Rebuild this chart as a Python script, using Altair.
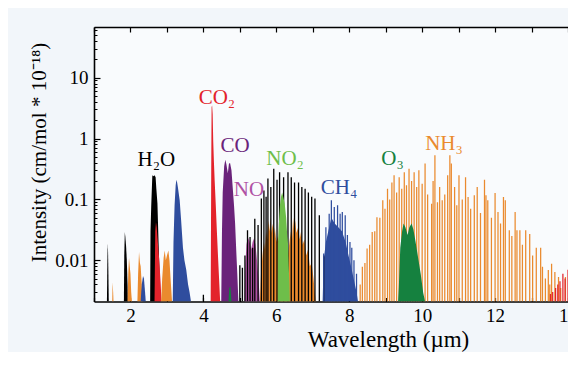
import altair as alt
import pandas as pd

# ---------------- scale limits ----------------
X_MIN, X_MAX = 1.0, 14.0
Y_MIN, Y_MAX = 0.0021, 68
W, H = 474, 274.5
Y0 = Y_MIN

species = ["H2O", "CO2", "CO", "NO", "NO2", "CH4", "O3", "NH3"]
colors = ["#000000", "#e3232b", "#6a237a", "#b052a5", "#6ebe4a", "#2f4d9e", "#15813f", "#ea8a2e"]

# ---------------- filled bands (wavelength um, intensity) ----------------
h2o_14_lam = [1.355, 1.365, 1.375, 1.385, 1.395, 1.405]
h2o_14_val = [Y0, 0.008, 0.019, 0.014, 0.006, Y0]
nh3_15_lam = [1.50, 1.51, 1.525, 1.535]
nh3_15_val = [Y0, 0.0043, 0.003, Y0]
h2o_19_lam = [1.82, 1.83, 1.845, 1.86, 1.88, 1.90, 1.92, 1.93]
h2o_19_val = [Y0, 0.012, 0.029, 0.024, 0.017, 0.010, 0.004, Y0]
nh3_20_lam = [1.92, 1.94, 1.96, 1.98, 2.00, 2.02, 2.04]
nh3_20_val = [Y0, 0.006, 0.011, 0.008, 0.006, 0.003, Y0]
nh3_22_lam = [2.19, 2.21, 2.235, 2.26, 2.28, 2.31, 2.33]
nh3_22_val = [Y0, 0.006, 0.0137, 0.009, 0.008, 0.004, Y0]
ch4_23_lam = [2.28, 2.31, 2.345, 2.37, 2.40, 2.42]
ch4_23_val = [Y0, 0.004, 0.0055, 0.005, 0.003, Y0]
h2o_27_lam = [2.54, 2.55, 2.57, 2.60, 2.63, 2.66, 2.69, 2.71, 2.74, 2.77, 2.80, 2.82]
h2o_27_val = [Y0, 0.03, 0.08, 0.25, 0.24, 0.25, 0.23, 0.15, 0.086, 0.02, 0.006, Y0]
co2_27_lam = [2.66, 2.68, 2.70, 2.72, 2.75, 2.78, 2.80, 2.83, 2.85]
co2_27_val = [Y0, 0.03, 0.042, 0.035, 0.02, 0.012, 0.008, 0.004, Y0]
nh3_30_lam = [2.84, 2.87, 2.91, 2.94, 2.97, 3.00, 3.04, 3.07, 3.10, 3.14]
nh3_30_val = [Y0, 0.005, 0.011, 0.0145, 0.010, 0.012, 0.0145, 0.010, 0.005, Y0]
ch4_33_lam = [3.16, 3.18, 3.21, 3.24, 3.26, 3.28, 3.30, 3.35, 3.39, 3.44, 3.48, 3.53, 3.58, 3.62, 3.66]
ch4_33_val = [Y0, 0.02, 0.08, 0.17, 0.21, 0.19, 0.16, 0.097, 0.045, 0.016, 0.010, 0.007, 0.004, 0.003, Y0]
co2_43_lam = [4.20, 4.215, 4.225, 4.24, 4.255, 4.27, 4.29, 4.31, 4.34, 4.37, 4.40, 4.43, 4.46]
co2_43_val = [Y0, 0.3, 3.3, 3.5, 2.5, 0.9, 0.4, 0.2, 0.08, 0.03, 0.012, 0.005, Y0]
co_47_lam = [4.49, 4.51, 4.53, 4.57, 4.60, 4.63, 4.67, 4.70, 4.73, 4.77, 4.80, 4.84, 4.87, 4.90, 4.93, 4.96]
co_47_val = [Y0, 0.03, 0.13, 0.35, 0.45, 0.38, 0.27, 0.38, 0.40, 0.30, 0.17, 0.08, 0.04, 0.015, 0.006, Y0]
o3_47_lam = [4.69, 4.71, 4.74, 4.77]
o3_47_val = [Y0, 0.0035, 0.0037, Y0]
no_53_lam = [5.13, 5.15, 5.18, 5.22, 5.27, 5.31, 5.35, 5.39, 5.43, 5.47, 5.51, 5.55]
no_53_val = [Y0, 0.008, 0.018, 0.024, 0.020, 0.015, 0.020, 0.023, 0.018, 0.010, 0.005, Y0]
nh3_61_lam = [5.55, 5.58, 5.62, 5.66, 5.69, 5.72, 5.75, 5.78, 5.81, 5.84, 5.87, 5.90, 5.93, 5.96,
              6.00, 6.04, 6.08, 6.20, 6.32, 6.36, 6.40, 6.43, 6.46, 6.49, 6.52, 6.55, 6.60, 6.64,
              6.68, 6.72, 6.77, 6.82, 6.87, 6.92, 6.97, 7.02, 7.08]
nh3_61_val = [Y0, 0.006, 0.012, 0.020, 0.015, 0.030, 0.022, 0.045, 0.030, 0.050, 0.028, 0.040, 0.025, 0.035,
              0.020, 0.025, 0.012, 0.010, 0.012, 0.020, 0.030, 0.022, 0.050, 0.030, 0.045, 0.028, 0.035, 0.022,
              0.030, 0.018, 0.022, 0.012, 0.015, 0.008, 0.009, 0.005, Y0]
ch4_77_lam = [7.27, 7.30, 7.36, 7.45, 7.51, 7.60, 7.70, 7.80, 7.90, 7.98, 8.05, 8.12, 8.20, 8.24]
ch4_77_val = [Y0, 0.010, 0.020, 0.035, 0.050, 0.040, 0.035, 0.030, 0.020, 0.012, 0.008, 0.005, 0.003, Y0]
no2_62_lam = [6.04, 6.045, 6.07, 6.10, 6.13, 6.16, 6.19, 6.23, 6.27, 6.30, 6.32, 6.34, 6.36, 6.37]
no2_62_val = [Y0, 0.019, 0.04, 0.08, 0.11, 0.13, 0.11, 0.086, 0.05, 0.025, 0.019, 0.008, 0.0042, Y0]
o3_96_lam = [9.34, 9.36, 9.40, 9.45, 9.49, 9.54, 9.60, 9.65, 9.71, 9.76, 9.82, 9.90, 9.96, 10.03, 10.08]
o3_96_val = [Y0, 0.0036, 0.016, 0.030, 0.040, 0.035, 0.026, 0.035, 0.040, 0.032, 0.020, 0.010, 0.006, 0.0029, Y0]

# ---------------- individual lines ----------------
h2o_lines_lam = [4.00, 5.00, 5.07, 5.14, 5.21, 5.28, 5.35, 5.41, 5.50, 5.59, 5.66, 5.72, 5.77, 5.85, 5.93,
                 6.02, 6.09, 6.20, 6.32, 6.41, 6.50, 6.61, 6.70, 6.79, 6.88, 6.97, 7.06, 7.18, 7.30]
h2o_lines_val = [0.0027, 0.0083, 0.0075, 0.012, 0.031, 0.024, 0.016, 0.048, 0.038, 0.103, 0.14, 0.11, 0.22,
                 0.16, 0.32, 0.21, 0.28, 0.23, 0.28, 0.23, 0.19, 0.19, 0.16, 0.15, 0.13, 0.11, 0.103, 0.055, 0.012]
ch4_lines_lam = [7.30, 7.36, 7.45, 7.51, 7.59, 7.68, 7.75, 7.81, 7.89, 7.95, 8.02, 8.07, 8.13, 8.20]
ch4_lines_val = [0.0129, 0.035, 0.058, 0.097, 0.075, 0.08, 0.058, 0.062, 0.055, 0.026, 0.02, 0.016, 0.01, 0.006]
nh3_lines_lam = [8.36, 8.49, 8.63, 8.76, 8.92, 9.05, 9.17, 9.23, 9.37, 9.51, 9.64, 9.78, 9.91, 10.08,
                 10.26, 10.35, 10.48, 10.55, 10.76, 10.80, 10.89, 11.01, 11.19, 11.26, 11.43, 11.51,
                 11.71, 11.75, 11.80, 12.00, 12.08, 12.23, 12.28, 12.39, 12.55, 12.60, 12.68, 12.84,
                 12.95, 13.13, 13.25, 13.30, 13.46, 13.55, 13.64, 13.74, 13.93, 14.02]
nh3_lines_val = [0.0078, 0.0156, 0.029, 0.051, 0.097, 0.15, 0.19, 0.25, 0.23, 0.28, 0.32, 0.28, 0.30, 0.39,
                 0.085, 0.53, 0.16, 0.097, 0.53, 0.39, 0.16, 0.25, 0.23, 0.109, 0.117, 0.16,
                 0.21, 0.117, 0.097, 0.127, 0.062, 0.109, 0.097, 0.031, 0.062, 0.031, 0.031, 0.031,
                 0.027, 0.016, 0.016, 0.0078, 0.0069, 0.0088, 0.0064, 0.0053, 0.0053, 0.0047]
nh3_weak_lam = [8.30, 8.43, 8.56, 8.70, 8.84, 8.98, 9.11, 9.30, 9.44, 9.57, 9.71, 9.85, 10.00, 10.15,
                10.30, 10.42, 10.62, 10.70, 10.95, 11.10, 11.33, 11.60, 11.90, 12.15, 12.46, 12.75,
                13.03, 13.38, 13.50, 13.80]
nh3_weak_val = [0.004, 0.009, 0.018, 0.03, 0.05, 0.07, 0.10, 0.13, 0.15, 0.17, 0.20, 0.16, 0.18, 0.12,
                0.20, 0.09, 0.12, 0.25, 0.08, 0.10, 0.07, 0.06, 0.05, 0.04, 0.025, 0.018,
                0.012, 0.005, 0.004, 0.0035]
co2_lines_lam = [13.52, 13.58, 13.66, 13.72, 13.78, 13.86, 13.92, 14.00, 14.06]
co2_lines_val = [0.0028, 0.003, 0.0035, 0.004, 0.0045, 0.006, 0.005, 0.007, 0.006]

# ---------------- labels ----------------
label_text = ["H₂O", "CO₂", "CO", "NO", "NO₂", "CH₄", "O₃", "NH₃"]
label_sp = ["H2O", "CO2", "CO", "NO", "NO2", "CH4", "O3", "NH3"]
label_lam = [2.71, 4.37, 4.87, 5.25, 6.24, 7.72, 9.19, 10.60]
label_val = [0.35, 3.74, 0.60, 0.112, 0.363, 0.124, 0.363, 0.64]

y_major = [0.01, 0.1, 1, 10]
y_minor = [m * d for d in [0.001, 0.01, 0.1, 1, 10] for m in range(2, 10)]
y_minor = [v for v in y_minor if Y_MIN <= v <= Y_MAX]
x_ticks = list(range(1, 15))
x_labels = [2, 4, 6, 8, 10, 12, 14]


def band_df(items):
    rows = []
    for name, sp, lam, val in items:
        for l, v in zip(lam, val):
            rows.append({"band": name, "sp": sp, "lam": l, "val": v, "base": Y_MIN})
    return pd.DataFrame(rows)


def line_df(items):
    rows = []
    for sp, lam, val in items:
        for l, v in zip(lam, val):
            rows.append({"sp": sp, "lam": l, "val": v})
    return pd.DataFrame(rows)


back_bands = band_df([
    ("a01", "H2O", h2o_14_lam, h2o_14_val),
    ("a02", "NH3", nh3_15_lam, nh3_15_val),
    ("a03", "H2O", h2o_19_lam, h2o_19_val),
    ("a04", "NH3", nh3_20_lam, nh3_20_val),
    ("a05", "NH3", nh3_22_lam, nh3_22_val),
    ("a06", "CH4", ch4_23_lam, ch4_23_val),
    ("a07", "H2O", h2o_27_lam, h2o_27_val),
    ("a08", "CO2", co2_27_lam, co2_27_val),
    ("a09", "NH3", nh3_30_lam, nh3_30_val),
    ("a10", "CH4", ch4_33_lam, ch4_33_val),
    ("a11", "CO2", co2_43_lam, co2_43_val),
    ("a12", "CO", co_47_lam, co_47_val),
    ("a13", "O3", o3_47_lam, o3_47_val),
    ("a14", "NO", no_53_lam, no_53_val),
    ("a15", "NH3", nh3_61_lam, nh3_61_val),
    ("a16", "CH4", ch4_77_lam, ch4_77_val),
])
front_bands = band_df([
    ("b1", "NO2", no2_62_lam, no2_62_val),
    ("b2", "O3", o3_96_lam, o3_96_val),
])
black_lines = line_df([("H2O", h2o_lines_lam, h2o_lines_val)])
other_lines = line_df([
    ("CH4", ch4_lines_lam, ch4_lines_val),
    ("NH3", nh3_weak_lam, nh3_weak_val),
    ("NH3", nh3_lines_lam, nh3_lines_val),
    ("CO2", co2_lines_lam, co2_lines_val),
])
labels = pd.DataFrame({"text": label_text, "sp": label_sp, "lam": label_lam, "val": label_val})

FONT = "Liberation Serif"
xs = alt.Scale(domain=[X_MIN, X_MAX], nice=False, zero=False)
ys = alt.Scale(type="log", domain=[Y_MIN, Y_MAX], nice=False)
cs = alt.Color("sp:N", scale=alt.Scale(domain=species, range=colors), legend=None)

ax_x_main = alt.Axis(orient="bottom", values=x_labels, format="~g", ticks=False, tickSize=0,
                     labelFlush=False, labelOverlap=False, labelPadding=5, labelFontSize=19,
                     domain=True, domainWidth=1.6, grid=False,
                     title="Wavelength (µm)", titleFontSize=23, titleX=294, titleY=45,
                     titleAlign="center", titleBaseline="alphabetic")
ax_y_main = alt.Axis(orient="left", values=y_major, format="~g", ticks=False, tickSize=0,
                     labelOverlap=False, labelPadding=6, labelFontSize=19,
                     domain=True, domainWidth=1.6, grid=False,
                     title="Intensity (cm/mol * 10⁻¹⁸)", titleFontSize=21, titleX=-49, titleY=125,
                     titleAngle=270, titleAlign="center", titleBaseline="alphabetic")
ax_x_top = alt.Axis(orient="bottom", offset=-H, values=x_ticks, labels=False, ticks=True, tickSize=5,
                    tickWidth=1.2, domain=True, domainWidth=1.6, grid=False, title=None)
ax_x_bot = alt.Axis(orient="top", offset=-H, values=x_ticks, labels=False, ticks=True, tickSize=4,
                    tickWidth=1.2, domain=False, grid=False, title=None)
ax_y_major = alt.Axis(orient="right", offset=-W, values=y_major, labels=False, ticks=True, tickSize=6,
                      tickWidth=1.2, domain=False, grid=False, title=None)
ax_y_minor = alt.Axis(orient="right", offset=-W, values=y_minor, labels=False, ticks=True, tickSize=3,
                      tickWidth=1, domain=False, grid=False, title=None)

back = alt.Chart(back_bands).mark_area(clip=True, opacity=1, interpolate="linear").encode(
    x=alt.X("lam:Q", scale=xs, axis=ax_x_main),
    y=alt.Y("val:Q", scale=ys, axis=ax_y_main, stack=None),
    y2=alt.Y2("base:Q"),
    color=cs,
    detail="band:N",
)
hl = alt.Chart(black_lines).mark_rule(clip=True, strokeWidth=1.3).encode(
    x=alt.X("lam:Q", scale=xs, axis=ax_x_top),
    y=alt.Y("val:Q", scale=ys, axis=ax_y_major),
    y2=alt.value("height"),
    color=cs,
)
ol = alt.Chart(other_lines).mark_rule(clip=True, strokeWidth=1.25).encode(
    x=alt.X("lam:Q", scale=xs, axis=ax_x_bot),
    y=alt.Y("val:Q", scale=ys, axis=ax_y_minor),
    y2=alt.value("height"),
    color=cs,
)
front = alt.Chart(front_bands).mark_area(clip=True, opacity=1, interpolate="linear").encode(
    x=alt.X("lam:Q", scale=xs, axis=None),
    y=alt.Y("val:Q", scale=ys, axis=None, stack=None),
    y2=alt.Y2("base:Q"),
    color=cs,
    detail="band:N",
)
txt = alt.Chart(labels).mark_text(font=FONT, fontSize=21, align="center", baseline="alphabetic").encode(
    x=alt.X("lam:Q", scale=xs, axis=None),
    y=alt.Y("val:Q", scale=ys, axis=None),
    text="text:N",
    color=cs,
)

chart = alt.layer(back, hl, ol, front, txt).resolve_axis(
    x="independent", y="independent"
).properties(
    width=W, height=H,
    autosize=alt.AutoSizeParams(type="none"),
    padding={"left": 86, "top": 19, "right": 0, "bottom": 50},
    background="#f2f6fa",
).configure_view(
    stroke=None,
    fill="#f9fbfd",
).configure_axis(
    labelFont=FONT, titleFont=FONT, labelColor="black", titleColor="black",
    tickColor="black", domainColor="black", titleFontWeight="normal",
)

chart.save("out.html", embed_options={"renderer": "svg", "actions": False})
